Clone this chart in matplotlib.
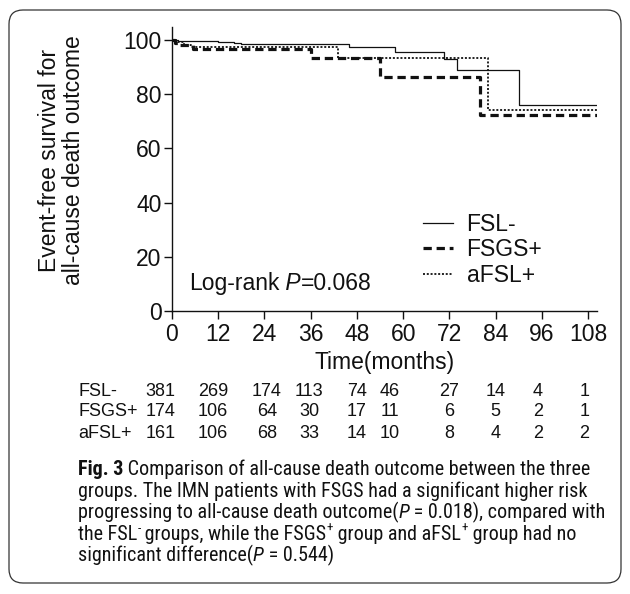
import matplotlib
matplotlib.use("Agg")
import matplotlib.pyplot as plt
from matplotlib import font_manager
from matplotlib.patches import FancyBboxPatch
from matplotlib.transforms import IdentityTransform, blended_transform_factory

# survival curves (months, % event-free)
fsl_t = [0, 1.5, 10, 12, 14, 16, 18, 46, 58, 70.5, 74, 90, 110.3]
fsl_s = [100, 99.7, 99.5, 99.3, 99.1, 98.9, 98.7, 97.3, 95.5, 92.9, 88.8, 76.0, 76.0]
fsgs_t = [0, 0.8, 2, 5.5, 36, 54, 80, 110.3]
fsgs_s = [100, 99.0, 98.2, 96.8, 93.2, 86.5, 72.3, 72.3]
afsl_t = [0, 1, 3, 5, 43, 82, 110.3]
afsl_s = [100, 99.2, 98.2, 97.3, 93.2, 74.2, 74.2]

groups = ["FSL-", "FSGS+", "aFSL+"]
months = [0, 12, 24, 36, 48, 60, 72, 84, 96, 108]
at_risk = {
    "FSL-": [381, 269, 174, 113, 74, 46, 27, 14, 4, 1],
    "FSGS+": [174, 106, 64, 30, 17, 11, 6, 5, 2, 1],
    "aFSL+": [161, 106, 68, 33, 14, 10, 8, 4, 2, 2],
}
# small nudges of the at-risk columns (months), as in the prism table
col_shift = [-3.0, -1.4, 0.6, -0.4, 0, -3.4, 0, 0, -1, -1]

W, H = 630, 594
fig = plt.figure(figsize=(W / 100, H / 100), dpi=100)
plt.rcParams["font.family"] = ["Liberation Sans", "DejaVu Sans"]
ink = "#111111"
big = 16.5
small = 13

ax = fig.add_axes([172 / W, 1 - 311 / H, (597 - 172) / W, (311 - 27) / H])
ax.step(fsl_t, fsl_s, where="post", color=ink, lw=0.9, label="FSL-")
ax.step(fsgs_t, fsgs_s, where="post", color=ink, lw=2.3, dashes=(2.6, 1.5), label="FSGS+")
ax.step(afsl_t, afsl_s, where="post", color=ink, lw=1.3, dashes=(1.1, 1.0), label="aFSL+")

ax.set_xlim(0, 110.3)
ax.set_ylim(0, 104.8)
ax.set_xticks(months)
ax.set_yticks([0, 20, 40, 60, 80, 100])
for s in ["top", "right"]:
    ax.spines[s].set_visible(False)
for s in ["left", "bottom"]:
    ax.spines[s].set_linewidth(1.0)
    ax.spines[s].set_color(ink)
ax.tick_params(direction="out", length=5.5, width=1.0, labelsize=big, colors=ink)
ax.tick_params(axis="x", pad=3)
ax.tick_params(axis="y", pad=2)
ax.set_xlabel("Time(months)", fontsize=big, color=ink, labelpad=3.5)

fig.text(61.5 / W, 1 - 160 / H, "Event-free survival for\nall-cause death outcome",
         rotation=90, ha="center", va="center", fontsize=big, color=ink, linespacing=1.05)

leg = ax.legend(loc="upper left", bbox_to_anchor=((423 - 172) / 425, (311 - 213) / 284),
                frameon=False, fontsize=big, handlelength=1.3, handletextpad=0.6,
                labelspacing=0.1, borderpad=0, borderaxespad=0)
for t in leg.get_texts():
    t.set_color(ink)

renderer = fig.canvas.get_renderer()


def draw_runs(x, y, runs, family, size):
    # x, y in image pixels from top-left, y is the baseline
    for s, opt in runs:
        kw = dict(fontsize=size, family=family, color=ink)
        dy = 0
        if opt == "it":
            kw["style"] = "italic"
        elif opt == "bf":
            kw["weight"] = "bold"
        elif opt == "sup":
            kw["fontsize"] = size * 0.65
            dy = size * 100 / 72 * 0.4
        t = fig.text(x, H - y + dy, s, transform=IdentityTransform(),
                     ha="left", va="baseline", **kw)
        x = t.get_window_extent(renderer).x1
    return x


# Log-rank text
draw_runs(189, 290, [("Log-rank", None), (" P", "it"), ("=0.068", None)],
          ["Liberation Sans", "DejaVu Sans"], big)

# number at risk table
tr = blended_transform_factory(ax.transData, fig.transFigure)
row_y = [391, 412, 434]
for g, yy in zip(groups, row_y):
    fig.text(78 / W, 1 - yy / H, g, fontsize=small, color=ink, va="center", ha="left")
    for m, n, d in zip(months, at_risk[g], col_shift):
        ax.text(m + d, 1 - yy / H, str(n), transform=tr, fontsize=small, color=ink,
                va="center", ha="center", clip_on=False)

# caption
names = {f.name for f in font_manager.fontManager.ttflist}
cap_font = "Liberation Sans"
for cand in ["Liberation Sans Narrow", "Roboto Condensed", "Open Sans Condensed", "Roboto"]:
    if cand in names:
        cap_font = cand
        break
cap_family = [cap_font, "DejaVu Sans"]

caption = [
    [("Fig. 3", "bf"), (" Comparison of all-cause death outcome between the three", None)],
    [("groups. The IMN patients with FSGS had a significant higher risk", None)],
    [("progressing to all-cause death outcome(", None), ("P", "it"),
     (" = 0.018), compared with", None)],
    [("the FSL", None), ("-", "sup"), (" groups, while the FSGS", None), ("+", "sup"),
     (" group and aFSL", None), ("+", "sup"), (" group had no", None)],
    [("significant difference(", None), ("P", "it"), (" = 0.544)", None)],
]

# fit the widest caption lines to their widths in the reference
trial = 13.0
sizes = []
for idx, right in [(0, 605), (2, 604)]:
    n_before = len(fig.texts)
    end = draw_runs(78, -100, caption[idx], cap_family, trial)
    for t in fig.texts[n_before:]:
        t.remove()
    sizes.append(trial * (right - 78) / (end - 78))
cap_size = min(sizes)

for i, line in enumerate(caption):
    draw_runs(78, 475 + i * 21.6, line, cap_family, cap_size)

# rounded frame around the figure panel
frame = FancyBboxPatch((9, 11), 612, 573, boxstyle="round,pad=0,rounding_size=14",
                       transform=IdentityTransform(), fill=False, ec="#333333", lw=0.9)
fig.patches.append(frame)

fig.savefig("out.png", dpi=100)
